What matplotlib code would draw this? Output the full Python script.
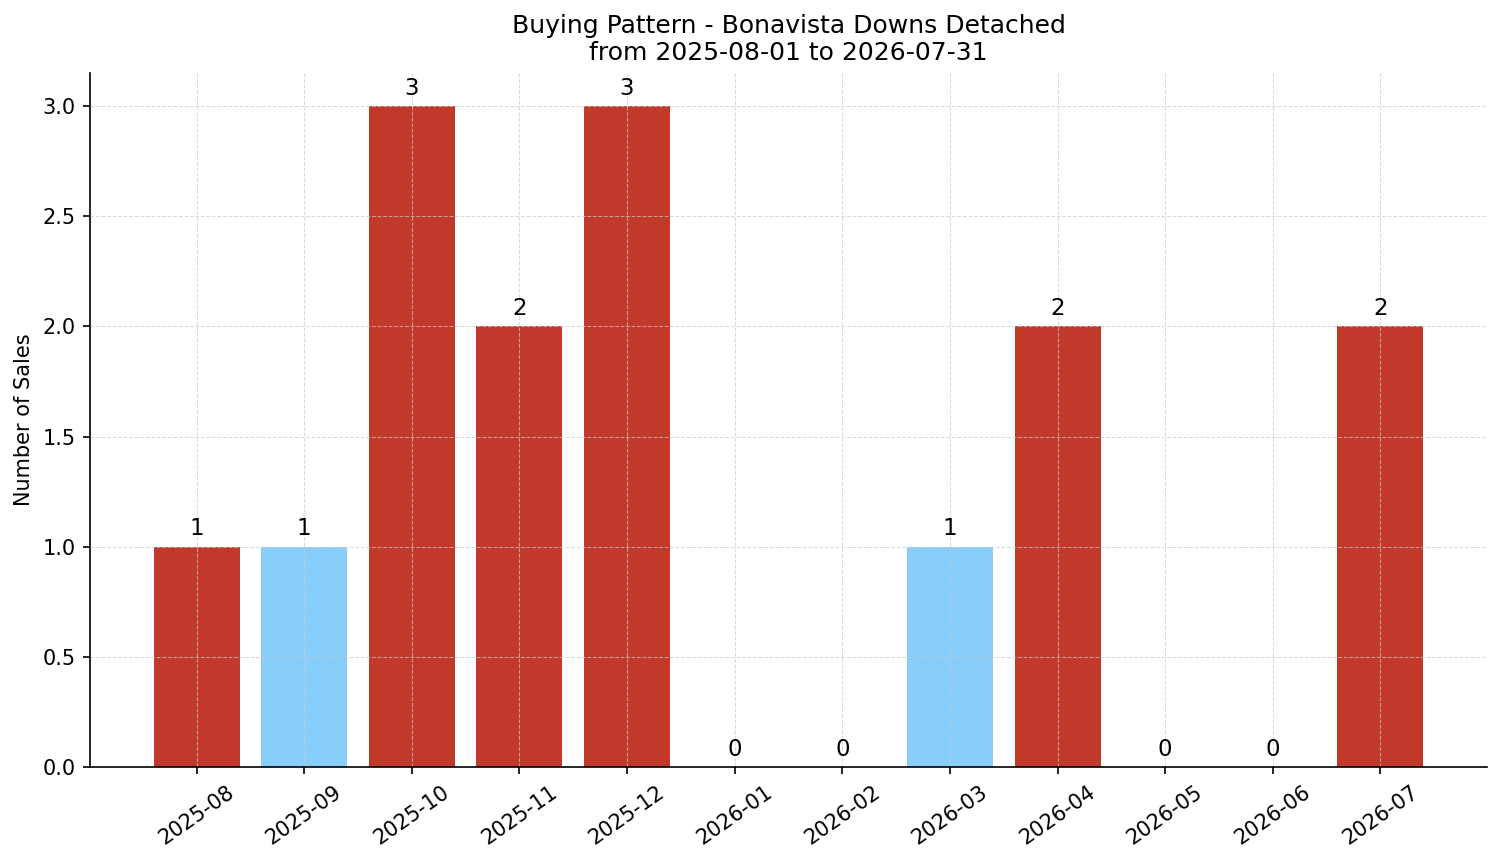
import matplotlib.pyplot as plt
import numpy as np

months = ["2025-08", "2025-09", "2025-10", "2025-11", "2025-12", "2026-01",
          "2026-02", "2026-03", "2026-04", "2026-05", "2026-06", "2026-07"]
sales = [1, 1, 3, 2, 3, 0, 0, 1, 2, 0, 0, 2]
highlight = [False, True, False, False, False, False,
             False, True, False, False, False, False]

red = "#c0392b"
blue = "#87cefa"
colors = [blue if h else red for h in highlight]

fig = plt.figure(figsize=(1501 / 150, 863 / 150), dpi=150)
ax = fig.add_axes([90 / 1501, 1 - 767 / 863, (1487 - 90) / 1501, (767 - 73) / 863])

x = np.arange(len(months))
bars = ax.bar(x, sales, color=colors, width=0.8)
ax.bar_label(bars, labels=[str(v) for v in sales], padding=3, fontsize=11)

ax.set_xticks(x)
ax.set_xticklabels(months, rotation=35, ha="center")
ax.set_ylabel("Number of Sales")
ax.set_title("Buying Pattern - Bonavista Downs Detached\nfrom 2025-08-01 to 2026-07-31", fontsize=12)
ax.grid(True, linestyle="--", linewidth=0.5, color="#cccccc", alpha=0.7)
ax.spines["top"].set_visible(False)
ax.spines["right"].set_visible(False)

fig.savefig("out.png", dpi=150)
